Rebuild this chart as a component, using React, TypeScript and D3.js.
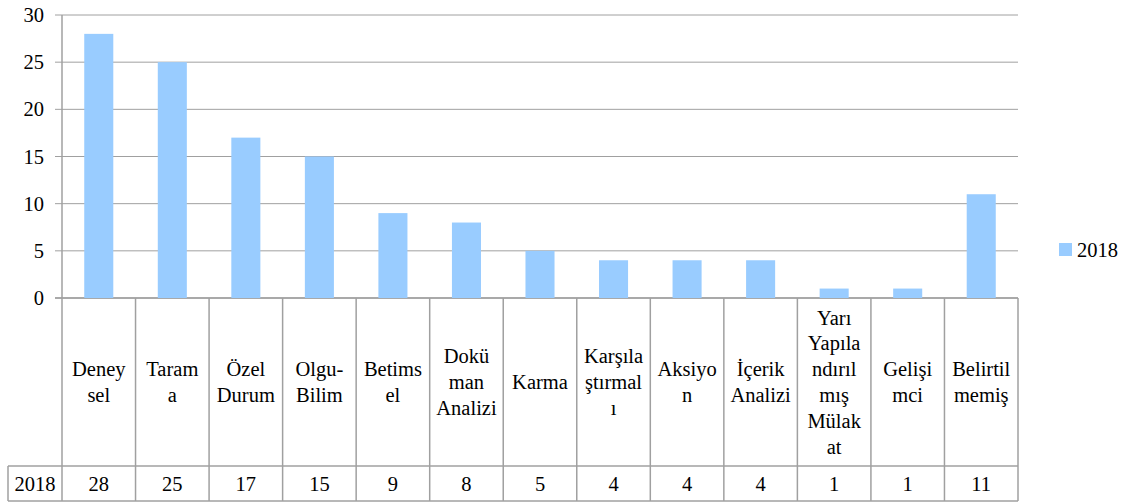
import React from "react";
import * as d3 from "d3";

const categoryLines: string[][] = [
  ["Deney", "sel"],
  ["Taram", "a"],
  ["Özel", "Durum"],
  ["Olgu-", "Bilim"],
  ["Betims", "el"],
  ["Dokü", "man", "Analizi"],
  ["Karma"],
  ["Karşıla", "ştırmal", "ı"],
  ["Aksiyo", "n"],
  ["İçerik", "Analizi"],
  ["Yarı", "Yapıla", "ndırıl", "mış", "Mülak", "at"],
  ["Gelişi", "mci"],
  ["Belirtil", "memiş"],
];
const seriesName = "2018";
const values2018: number[] = [28, 25, 17, 15, 9, 8, 5, 4, 4, 4, 1, 1, 11];
const yTicks: number[] = [0, 5, 10, 15, 20, 25, 30];

const W = 1128;
const H = 503;
const FONT = "'Liberation Serif'";

export default function App() {
  const left = 62;
  const right = 1018;
  const top = 15;
  const bottom = 298;
  const rowTop = 466;
  const rowBottom = 501;
  const tableLeft = 8;
  const lineH = 25.8;
  const fs = 20.5;
  const ts = { fontFamily: FONT, fontSize: fs };

  const idx = categoryLines.map((_, i) => String(i));
  const x = d3.scaleBand<string>().domain(idx).range([left, right]).padding(0);
  const y = d3.scaleLinear().domain([0, 30]).range([bottom, top]);
  const bw = x.bandwidth();
  const barW = bw * 0.395;
  const grid = "#a0a0a0";
  const labelMid = (bottom + rowTop) / 2;

  return (
    <svg
      width={W}
      height={H}
      style={{ position: "absolute", left: 0, top: 0, background: "#fff" }}
    >
      {yTicks.map((t) => (
        <g key={t}>
          <line
            x1={55}
            x2={right}
            y1={y(t)}
            y2={y(t)}
            stroke={t === 0 ? "#8c8c8c" : grid}
            strokeWidth={t === 0 ? 1.5 : 1}
          />
          <text
            x={44}
            y={y(t)}
            textAnchor="end"
            dominantBaseline="central"
            style={ts}
            fill="#000"
          >
            {t}
          </text>
        </g>
      ))}
      <line x1={left} x2={left} y1={top} y2={rowBottom} stroke={grid} strokeWidth={1.5} />
      {values2018.map((v, i) => {
        const cx = (x(String(i)) as number) + bw / 2;
        return (
          <rect
            key={i}
            x={cx - barW / 2}
            y={y(v)}
            width={barW}
            height={y(0) - y(v)}
            fill="#99ccff"
          />
        );
      })}
      {idx.map((k, i) => {
        const xx = (x(k) as number) + bw;
        return (
          <line key={i} x1={xx} x2={xx} y1={bottom} y2={rowBottom} stroke={grid} strokeWidth={1.5} />
        );
      })}
      <line x1={tableLeft} x2={right} y1={rowTop} y2={rowTop} stroke={grid} strokeWidth={1.5} />
      <line x1={tableLeft} x2={right} y1={rowBottom} y2={rowBottom} stroke={grid} strokeWidth={1.5} />
      <line x1={tableLeft} x2={tableLeft} y1={rowTop} y2={rowBottom} stroke={grid} strokeWidth={1.5} />
      {categoryLines.map((lines, i) => {
        const cx = (x(String(i)) as number) + bw / 2;
        const startY = labelMid - ((lines.length - 1) * lineH) / 2;
        return (
          <text key={i} textAnchor="middle" style={ts} fill="#000">
            {lines.map((ln, j) => (
              <tspan key={j} x={cx} y={startY + j * lineH} dominantBaseline="central">
                {ln}
              </tspan>
            ))}
          </text>
        );
      })}
      <text
        x={(tableLeft + left) / 2}
        y={(rowTop + rowBottom) / 2}
        textAnchor="middle"
        dominantBaseline="central"
        style={ts}
      >
        {seriesName}
      </text>
      {values2018.map((v, i) => (
        <text
          key={i}
          x={(x(String(i)) as number) + bw / 2}
          y={(rowTop + rowBottom) / 2}
          textAnchor="middle"
          dominantBaseline="central"
          style={ts}
        >
          {v}
        </text>
      ))}
      <rect x={1059} y={243} width={13} height={13} fill="#99ccff" />
      <text x={1077} y={250} dominantBaseline="central" style={ts}>
        {seriesName}
      </text>
    </svg>
  );
}
